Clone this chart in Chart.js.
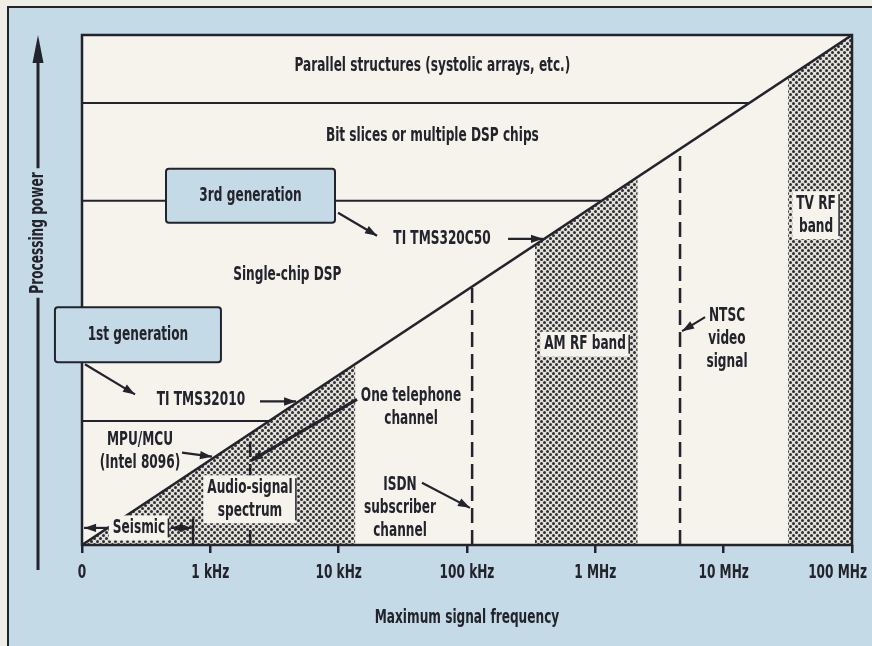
<!DOCTYPE html>
<html>
<head>
<meta charset="utf-8">
<script src="https://cdn.jsdelivr.net/npm/chart.js@4.4.1/dist/chart.umd.min.js"></script>
<style>
  html, body { margin: 0; padding: 0; background: #eeede6; }
  #dsp { display: block; }
</style>
</head>
<body>
<canvas id="dsp" width="872" height="646"></canvas>
<script>
// x: signal frequency in decades of Hz (2 = 100 Hz ... 8 = 100 MHz); y: processing power on the same step
const freqTicks = [2, 3, 4, 5, 6, 7, 8];
const freqLabels = ['0', '1 kHz', '10 kHz', '100 kHz', '1 MHz', '10 MHz', '100 MHz'];
const xTitle = 'Maximum signal frequency';
const yTitle = 'Processing power';

// what a processor must handle to keep up with a signal of a given frequency
const limitLine = [[2, 0], [8, 6]];

// upper edges of the processor classes (MPU/MCU, single-chip DSP, bit slices)
const tierMCU = [[2, 1.46], [3.46, 1.46]];
const tierDSP = [[2, 4.05], [6.05, 4.05]];
const tierSlices = [[2, 5.2], [7.2, 5.2]];

// shaded signal bands, top edge on the limit line
const bandAudio = [[2, 0], [4.13, 2.13]];
const bandAM = [[5.53, 3.53], [6.33, 4.33]];
const bandTV = [[7.5, 5.5], [8, 6]];

// single-frequency markers
const markTelephone = [[3.31, 0], [3.31, 1.31]];
const markISDN = [[5.04, 0], [5.04, 3.04]];
const markNTSC = [[6.66, 0], [6.66, 4.66]];
const markSeismic = [[2.865, 0], [2.865, 0.31]];

const INK = '#23232c';
const BLUE = '#c4dae6';
const SHEET = '#f5f3ec';
const FONT = '"Liberation Sans Narrow", "DejaVu Sans Condensed", "Arial Narrow", sans-serif';
const SQUEEZE = 0.71;

// text labels, placed in axis units (first line centre)
const notes = [
  { text: ['Parallel structures (systolic arrays, etc.)'], at: [4.73, 5.63] },
  { text: ['Bit slices or multiple DSP chips'], at: [4.73, 4.81] },
  { text: ['3rd generation'], at: [3.313, 4.11], box: [169, 54] },
  { text: ['TI TMS320C50'], at: [4.805, 3.6] },
  { text: ['Single-chip DSP'], at: [3.6, 3.18] },
  { text: ['1st generation'], at: [2.436, 2.474], box: [166, 55] },
  { text: ['TI TMS32010'], at: [2.927, 1.70] },
  { text: ['MPU/MCU', '(Intel 8096)'], at: [2.452, 1.24] },
  { text: ['One telephone', 'channel'], at: [4.564, 1.748] },
  { text: ['Seismic'], at: [2.444, 0.201], clear: true },
  { text: ['Audio-signal', 'spectrum'], at: [3.309, 0.673], clear: true },
  { text: ['ISDN', 'subscriber', 'channel'], at: [4.478, 0.709] },
  { text: ['AM RF band'], at: [5.92, 2.362], clear: true },
  { text: ['NTSC', 'video', 'signal'], at: [7.026, 2.693] },
  { text: ['TV RF', 'band'], at: [7.72, 4.016], clear: true },
];

// leader arrows from labels to what they point at
const pointers = [
  { from: [2.023, 2.126], to: [2.413, 1.772] },
  { from: [3.387, 1.689], to: [3.668, 1.689] },
  { from: [3.995, 3.909], to: [4.299, 3.638] },
  { from: [5.32, 3.602], to: [5.592, 3.602] },
  { from: [2.779, 1.087], to: [3.013, 1.039] },
  { from: [4.143, 1.713], to: [3.317, 0.992], width: 3.2 },
  { from: [4.649, 0.732], to: [5.023, 0.437] },
  { from: [6.855, 2.681], to: [6.676, 2.516] },
  { from: [2.218, 0.201], to: [2.016, 0.201] },
  { from: [2.69, 0.201], to: [2.855, 0.201], both: true },
];

const pts = (list) => list.map(([x, y]) => ({ x, y }));

function dotPattern() {
  const c = document.createElement('canvas');
  c.width = 6;
  c.height = 6;
  const g = c.getContext('2d');
  g.fillStyle = '#e2e0d8';
  g.fillRect(0, 0, 6, 6);
  g.fillStyle = '#2e2e34';
  [[1.5, 1.5], [4.5, 4.5]].forEach(([x, y]) => {
    g.beginPath();
    g.arc(x, y, 1.5, 0, Math.PI * 2);
    g.fill();
  });
  return g.createPattern(c, 'repeat');
}

const dots = dotPattern();

function band(data) {
  return {
    data: pts(data), fill: 'origin', backgroundColor: dots,
    borderColor: 'rgba(0,0,0,0)', borderWidth: 0, pointRadius: 0, order: 5
  };
}

function rule(data, width, dash) {
  return {
    data: pts(data), fill: false, borderColor: INK, borderWidth: width,
    borderDash: dash || [], pointRadius: 0, order: 1
  };
}

function squeezed(ctx, str, x, y) {
  ctx.save();
  ctx.translate(x, y);
  ctx.scale(SQUEEZE, 1);
  ctx.fillText(str, 0, 0);
  ctx.restore();
}

function arrow(ctx, x1, y1, x2, y2, width, both) {
  const ang = Math.atan2(y2 - y1, x2 - x1);
  const len = 12, half = 4.2;
  ctx.save();
  ctx.strokeStyle = INK;
  ctx.fillStyle = INK;
  ctx.lineWidth = width || 2.2;
  ctx.beginPath();
  ctx.moveTo(x1, y1);
  ctx.lineTo(x2, y2);
  ctx.stroke();
  const head = (x, y, a) => {
    ctx.beginPath();
    ctx.moveTo(x, y);
    ctx.lineTo(x - len * Math.cos(a) + half * Math.sin(a), y - len * Math.sin(a) - half * Math.cos(a));
    ctx.lineTo(x - len * Math.cos(a) - half * Math.sin(a), y - len * Math.sin(a) + half * Math.cos(a));
    ctx.closePath();
    ctx.fill();
  };
  head(x2, y2, ang);
  if (both) head(x1, y1, ang + Math.PI);
  ctx.restore();
}

const paper = {
  id: 'paper',
  beforeDraw(chart) {
    const { ctx, chartArea: a, width, height } = chart;
    ctx.save();
    ctx.fillStyle = '#eeede6';
    ctx.fillRect(0, 0, width, height);
    ctx.fillStyle = BLUE;
    ctx.fillRect(8, 7, width - 8, height - 7);
    ctx.strokeStyle = INK;
    ctx.lineWidth = 2;
    ctx.beginPath();
    ctx.moveTo(8, height);
    ctx.lineTo(8, 7);
    ctx.lineTo(width, 7);
    ctx.stroke();
    ctx.fillStyle = SHEET;
    ctx.fillRect(a.left, a.top, a.right - a.left, a.bottom - a.top);
    ctx.restore();
  }
};

const labels = {
  id: 'labels',
  afterDatasetsDraw(chart) {
    const { ctx, chartArea: a, scales: { x, y }, width } = chart;
    ctx.save();

    // frame of the plot
    ctx.strokeStyle = INK;
    ctx.lineWidth = 2.5;
    ctx.strokeRect(a.left, a.top, a.right - a.left, a.bottom - a.top);

    ctx.font = 'bold 19px ' + FONT;
    ctx.textAlign = 'center';
    ctx.textBaseline = 'middle';
    const lineGap = 23;

    pointers.forEach(p => {
      arrow(ctx, x.getPixelForValue(p.from[0]), y.getPixelForValue(p.from[1]),
        x.getPixelForValue(p.to[0]), y.getPixelForValue(p.to[1]), p.width, p.both);
    });

    notes.forEach(n => {
      const cx = x.getPixelForValue(n.at[0]);
      const cy = y.getPixelForValue(n.at[1]);
      if (n.box) {
        const [w, h] = n.box;
        ctx.fillStyle = BLUE;
        ctx.strokeStyle = INK;
        ctx.lineWidth = 2;
        ctx.beginPath();
        ctx.roundRect(cx - w / 2, cy - h / 2, w, h, 3);
        ctx.fill();
        ctx.stroke();
      }
      if (n.clear) {
        const w = Math.max(...n.text.map(t => ctx.measureText(t).width)) * SQUEEZE + 8;
        const h = n.text.length * lineGap + 2;
        ctx.fillStyle = SHEET;
        ctx.fillRect(cx - w / 2, cy - lineGap / 2 - 1, w, h);
        ctx.fillStyle = INK;
        ctx.fillRect(cx + w / 2 - 1.5, cy - lineGap / 2 + 2, 1.5, h - 6);
      }
      ctx.fillStyle = INK;
      n.text.forEach((t, i) => squeezed(ctx, t, cx, cy + i * lineGap));
    });

    // frequency tick labels, kept inside the sheet at the right end
    x.ticks.forEach(t => {
      const i = freqTicks.indexOf(t.value);
      if (i < 0) return;
      const label = freqLabels[i];
      const w = ctx.measureText(label).width * SQUEEZE;
      const px = Math.min(x.getPixelForValue(t.value), width - 5 - w / 2);
      squeezed(ctx, label, px, a.bottom + 28);
    });
    squeezed(ctx, xTitle, (a.left + a.right) / 2, a.bottom + 73);

    // vertical axis name with its arrow
    const ax = 38;
    const mid = (a.top + a.bottom) / 2 - 57;
    ctx.save();
    ctx.translate(ax, mid);
    ctx.rotate(-Math.PI / 2);
    squeezed(ctx, yTitle, 0, 0);
    ctx.restore();
    const half = ctx.measureText(yTitle).width * SQUEEZE / 2 + 4;
    ctx.lineWidth = 3;
    ctx.beginPath();
    ctx.moveTo(ax, a.top + 20);
    ctx.lineTo(ax, mid - half);
    ctx.moveTo(ax, mid + half);
    ctx.lineTo(ax, a.bottom + 25);
    ctx.stroke();
    ctx.beginPath();
    ctx.moveTo(ax, a.top);
    ctx.lineTo(ax - 5.5, a.top + 28);
    ctx.lineTo(ax + 5.5, a.top + 28);
    ctx.closePath();
    ctx.fill();

    ctx.restore();
  }
};

new Chart(document.getElementById('dsp'), {
  type: 'line',
  data: {
    datasets: [
      band(bandAudio),
      band(bandAM),
      band(bandTV),
      rule(limitLine, 2.5),
      rule(tierMCU, 2),
      rule(tierDSP, 2),
      rule(tierSlices, 2),
      rule(markTelephone, 2.5, [15, 7]),
      rule(markISDN, 2.5, [15, 7]),
      rule(markNTSC, 2.5, [15, 7]),
      rule(markSeismic, 2.5),
    ]
  },
  options: {
    responsive: false,
    animation: false,
    events: [],
    layout: { padding: { left: 82, top: 35, right: 20, bottom: 93 } },
    plugins: { legend: { display: false }, tooltip: { enabled: false } },
    scales: {
      x: {
        type: 'linear',
        min: 2,
        max: 8,
        ticks: { display: false, stepSize: 1 },
        grid: { drawOnChartArea: false, drawTicks: true, tickLength: 8, color: INK, lineWidth: 2.5 },
        border: { display: false }
      },
      y: {
        type: 'linear',
        min: 0,
        max: 6,
        display: false
      }
    }
  },
  plugins: [paper, labels]
});
</script>
</body>
</html>
